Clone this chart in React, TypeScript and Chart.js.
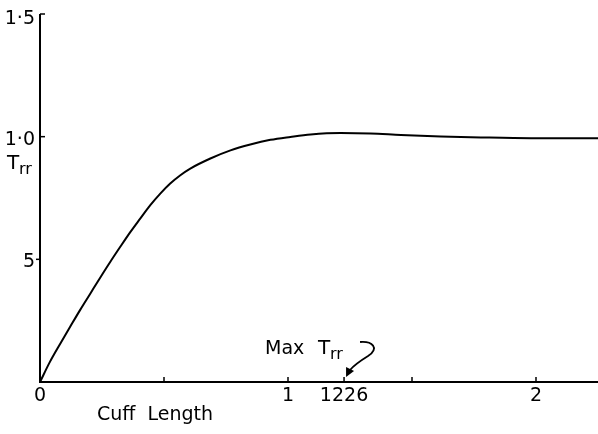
import React, { useEffect, useRef } from "react";
import { Chart, registerables } from "chart.js";

Chart.register(...registerables);

const cuffLength = [0, 0.04, 0.081, 0.121, 0.162, 0.202, 0.242, 0.283, 0.323, 0.364, 0.404, 0.444, 0.485, 0.525, 0.566, 0.606, 0.687, 0.768, 0.848, 0.929, 1.01, 1.091, 1.212, 1.333, 1.455, 1.616, 1.778, 1.98, 2.25];
const trrValues = [0, 0.082, 0.155, 0.224, 0.294, 0.359, 0.424, 0.489, 0.55, 0.611, 0.666, 0.72, 0.768, 0.809, 0.843, 0.87, 0.911, 0.944, 0.968, 0.987, 0.999, 1.009, 1.015, 1.013, 1.007, 1.001, 0.997, 0.994, 0.994];

const xTickValues = [0, 0.5, 1, 1.226, 1.5, 2];
const xTickLabels = ["0", "", "1", "1226", "", "2"];
const yTickValues = [0.5, 1.0, 1.5];
const yTickLabels = ["5", "1·0", "1·5"];
const xTitle = "Cuff  Length";
const yTitleMain = "T";
const yTitleSub = "rr";
const maxLabel = "Max";
const maxX = 1.226;

const FONT = "'DejaVu Sans', sans-serif";

const axesPlugin = {
  id: "customAxes",
  afterDatasetsDraw(chart: any) {
    const { ctx, scales } = chart;
    const xs = scales.x;
    const ys = scales.y;
    const x0 = xs.getPixelForValue(0);
    const y0 = ys.getPixelForValue(0);
    const yTop = ys.getPixelForValue(1.5);
    const xEnd = xs.getPixelForValue(2.25);
    ctx.save();
    ctx.strokeStyle = "#000";
    ctx.fillStyle = "#000";
    ctx.lineWidth = 2;
    ctx.beginPath();
    ctx.moveTo(x0, yTop);
    ctx.lineTo(x0, y0);
    ctx.lineTo(xEnd, y0);
    ctx.stroke();
    ctx.lineWidth = 1.5;
    ctx.font = `19px ${FONT}`;
    ctx.textAlign = "center";
    ctx.textBaseline = "top";
    xTickValues.forEach((v, i) => {
      const px = xs.getPixelForValue(v);
      if (v !== 0) {
        ctx.beginPath();
        ctx.moveTo(px, y0);
        ctx.lineTo(px, y0 - 5);
        ctx.stroke();
      }
      if (xTickLabels[i]) ctx.fillText(xTickLabels[i], px, y0 + 5);
    });
    ctx.textAlign = "right";
    ctx.textBaseline = "middle";
    yTickValues.forEach((v, i) => {
      const py = ys.getPixelForValue(v);
      ctx.beginPath();
      if (v === 0.5) {
        ctx.moveTo(x0, py);
        ctx.lineTo(x0 - 4, py);
      } else {
        ctx.moveTo(x0, py);
        ctx.lineTo(x0 + 5, py);
      }
      ctx.stroke();
      ctx.fillText(yTickLabels[i], x0 - 5, py + (v === 1.5 ? 5 : 3));
    });
    ctx.textAlign = "left";
    ctx.textBaseline = "alphabetic";
    ctx.fillText(xTitle, x0 + 57, y0 + 38);
    ctx.font = `20px ${FONT}`;
    ctx.fillText(yTitleMain, 7, ys.getPixelForValue(0.87));
    ctx.font = `16px ${FONT}`;
    ctx.fillText(yTitleSub, 19, ys.getPixelForValue(0.87) + 5);
    const mx = xs.getPixelForValue(maxX);
    ctx.font = `19px ${FONT}`;
    ctx.fillText(maxLabel, mx - 79, y0 - 28);
    ctx.font = `20px ${FONT}`;
    ctx.fillText(yTitleMain, mx - 26, y0 - 28);
    ctx.font = `16px ${FONT}`;
    ctx.fillText(yTitleSub, mx - 14, y0 - 23);
    ctx.lineWidth = 1.8;
    ctx.beginPath();
    ctx.moveTo(mx + 16, y0 - 40);
    ctx.bezierCurveTo(mx + 28, y0 - 41, mx + 36, y0 - 34, mx + 24, y0 - 26);
    ctx.bezierCurveTo(mx + 16, y0 - 21, mx + 10, y0 - 17, mx + 6, y0 - 12);
    ctx.stroke();
    ctx.beginPath();
    ctx.moveTo(mx + 2, y0 - 5);
    ctx.lineTo(mx + 2, y0 - 15);
    ctx.lineTo(mx + 10, y0 - 11);
    ctx.closePath();
    ctx.fill();
    ctx.restore();
  },
};

export default function App() {
  const ref = useRef<HTMLCanvasElement>(null);
  useEffect(() => {
    if (!ref.current) return;
    const chart = new Chart(ref.current, {
      type: "scatter",
      data: {
        datasets: [
          {
            data: cuffLength.map((x, i) => ({ x, y: trrValues[i] })),
            showLine: true,
            borderColor: "#000",
            borderWidth: 2,
            pointRadius: 0,
            cubicInterpolationMode: "monotone",
            fill: false,
          },
        ],
      },
      options: {
        animation: false,
        responsive: false,
        layout: { padding: { left: 40, top: 14, right: 0, bottom: 52 } },
        plugins: { legend: { display: false }, tooltip: { enabled: false } },
        scales: {
          x: { type: "linear", min: 0, max: 2.25, display: false },
          y: { type: "linear", min: 0, max: 1.5, display: false },
        },
      },
      plugins: [axesPlugin],
    });
    return () => chart.destroy();
  }, []);
  return (
    <div style={{ position: "absolute", left: 0, top: 0, width: 598, height: 434, background: "#fff" }}>
      <canvas ref={ref} width={598} height={434} style={{ display: "block" }} />
    </div>
  );
}
